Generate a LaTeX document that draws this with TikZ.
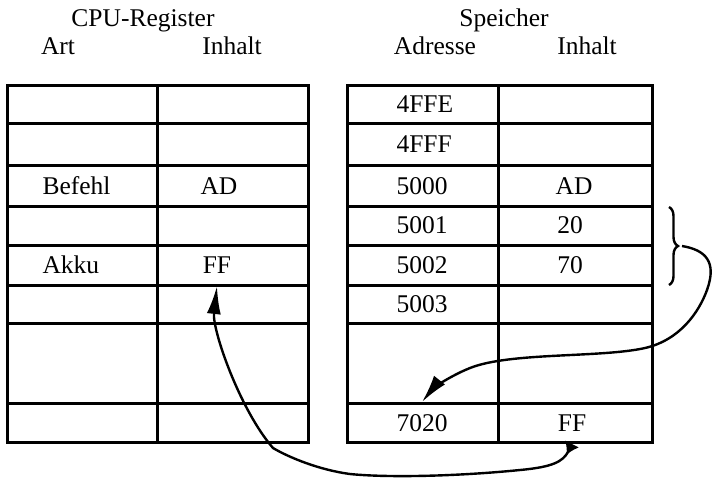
\documentclass[tikz,border=0pt]{standalone}
\usepackage{fontspec}
\setmainfont{Liberation Serif}
\usepackage{tikz}
\usetikzlibrary{arrows.meta,decorations.pathreplacing}

\tikzset{
 zelle/.style={inner sep=0pt, minimum height=19.5pt},
 kopf/.style={anchor=base},
 pfeil/.style={line width=1.2pt},
}

\begin{document}
\begin{tikzpicture}[x=0.5pt, y=-0.5pt, line width=1.5pt, font=\fontsize{12.75}{15}\selectfont]
 \useasboundingbox (0,0) rectangle (712,479);
 % Ueberschriften
 \node[kopf] (cpu) at (143,26) {CPU-Register};
 \node[kopf] (art) at (58,54) {Art};
 \node[kopf] (inhA) at (232,54) {Inhalt};
 \node[kopf] (sp) at (504,26) {Speicher};
 \node[kopf] (adr) at (435,54) {Adresse};
 \node[kopf] (inhB) at (587,54) {Inhalt};
 % Tabellen
 \draw (7,85) rectangle (308,442);
 \draw (157,85)--(157,442);
 \draw (347,85) rectangle (652,442);
 \draw (498,85)--(498,442);
 \foreach \y in {123,165,206,245,285,323,403} {
   \draw (7,\y)--(308,\y);
   \draw (347,\y)--(652,\y);
 }
 % CPU-Register
 \node[zelle, anchor=west] (befehl) at (41,186) {Befehl};
 \node[zelle] (regAD) at (219,186) {AD};
 \node[zelle, anchor=west] (akku) at (41,265) {Akku};
 \node[zelle] (regFF) at (217,265) {FF};
 % Speicher
 \foreach \a/\y in {4FFE/104, 4FFF/144, 5000/186, 5001/225, 5002/265, 5003/304, 7020/423}
   \node[zelle, anchor=west] (m\a) at (395,\y) {\a};
 \node[zelle] (mAD) at (574,186) {AD};
 \node[zelle] (m20) at (570,225) {20};
 \node[zelle] (m70) at (570,265) {70};
 \node[zelle] (mFF) at (572,423) {FF};
 % Klammer um 5001/5002
 \draw[pfeil, decorate, decoration={brace, amplitude=4.5pt}] (669,207) -- (669,285);
 \coordinate (klammer) at (682,246);
 % Pfeile
 \draw[pfeil, -{Latex[length=14pt,width=7pt]}] (klammer) .. controls (706,250) and (717,262) .. (707,290)
   .. controls (699,312) and (680,340) .. (645,348)
   .. controls (600,358) and (510,352) .. (470,368)
   .. controls (445,378) and (430,392) .. (m7020.north);
 \draw[pfeil, {Latex[reversed,length=6pt,width=8pt]}-{Latex[length=14pt,width=7pt]}] (mFF.south)
   .. controls (563,462) and (552,467) .. (520,470)
   .. controls (460,476) and (390,478) .. (350,474)
   .. controls (320,470) and (290,458) .. (273,448)
   .. controls (240,410) and (212,330) .. (regFF.south);
\end{tikzpicture}
\end{document}
